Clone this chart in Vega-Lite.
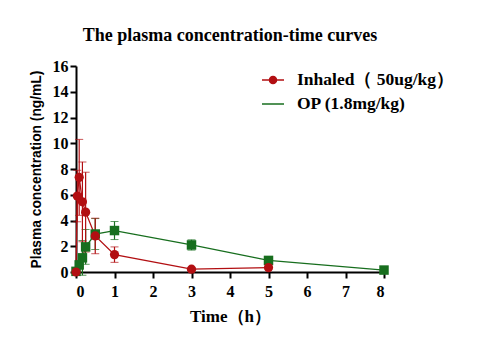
{
  "$schema": "https://vega.github.io/schema/vega-lite/v6.json",
  "width": 308,
  "height": 206,
  "autosize": {"type": "none"},
  "padding": {"left": 76, "top": 66, "right": 95, "bottom": 82},
  "background": "white",
  "title": {"text": "The plasma concentration-time curves", "font": "Liberation Serif", "fontSize": 18, "fontWeight": "bold", "color": "black", "anchor": "middle", "offset": 13},
  "data": {"values": [
    {"group": "OP (1.8mg/kg)", "t": 0, "c": 0.05, "sd": 0.1},
    {"group": "OP (1.8mg/kg)", "t": 0.083, "c": 0.55, "sd": 0.3},
    {"group": "OP (1.8mg/kg)", "t": 0.167, "c": 1.1, "sd": 1.35},
    {"group": "OP (1.8mg/kg)", "t": 0.25, "c": 1.95, "sd": 1.35},
    {"group": "OP (1.8mg/kg)", "t": 0.5, "c": 2.95, "sd": 1.2},
    {"group": "OP (1.8mg/kg)", "t": 1, "c": 3.22, "sd": 0.7},
    {"group": "OP (1.8mg/kg)", "t": 3, "c": 2.1, "sd": 0.4},
    {"group": "OP (1.8mg/kg)", "t": 5, "c": 0.9, "sd": 0.15},
    {"group": "OP (1.8mg/kg)", "t": 8, "c": 0.15, "sd": 0.1},
    {"group": "Inhaled（ 50ug/kg）", "t": 0, "c": 0, "sd": 0},
    {"group": "Inhaled（ 50ug/kg）", "t": 0.033, "c": 5.9, "sd": 2.0},
    {"group": "Inhaled（ 50ug/kg）", "t": 0.083, "c": 7.35, "sd": 2.95},
    {"group": "Inhaled（ 50ug/kg）", "t": 0.167, "c": 5.45, "sd": 3.1},
    {"group": "Inhaled（ 50ug/kg）", "t": 0.25, "c": 4.65, "sd": 3.1},
    {"group": "Inhaled（ 50ug/kg）", "t": 0.5, "c": 2.8, "sd": 1.38},
    {"group": "Inhaled（ 50ug/kg）", "t": 1, "c": 1.35, "sd": 0.6},
    {"group": "Inhaled（ 50ug/kg）", "t": 3, "c": 0.22, "sd": 0.1},
    {"group": "Inhaled（ 50ug/kg）", "t": 5, "c": 0.34, "sd": 0.1}
  ]},
  "encoding": {
    "x": {"field": "t", "type": "quantitative", "scale": {"domain": [0, 8], "nice": false},
      "axis": {"title": "Time（h）", "values": [0,1,2,3,4,5,6,7,8], "grid": false, "domainColor": "black", "domainWidth": 2, "tickColor": "black", "tickWidth": 2, "tickSize": 6, "labelFont": "Liberation Serif", "labelFontSize": 16, "labelFontWeight": "bold", "labelColor": "black", "labelPadding": 5, "titleFont": "Liberation Serif", "titleFontSize": 17, "titleFontWeight": "bold", "titleColor": "black", "titlePadding": 9}},
    "y": {"field": "c", "type": "quantitative", "scale": {"domain": [0, 16], "nice": false},
      "axis": {"title": "Plasma concentration (ng/mL)", "values": [0,2,4,6,8,10,12,14,16], "grid": false, "domainColor": "black", "domainWidth": 2, "tickColor": "black", "tickWidth": 2, "tickSize": 6, "labelFont": "Liberation Serif", "labelFontSize": 16, "labelFontWeight": "bold", "labelColor": "black", "labelPadding": 2, "titleFont": "Liberation Sans", "titleFontSize": 13.8, "titleFontWeight": "bold", "titleColor": "black", "titlePadding": 9}},
    "color": {"field": "group", "type": "nominal",
      "scale": {"domain": ["Inhaled（ 50ug/kg）", "OP (1.8mg/kg)"], "range": ["#B20F12", "#176E1E"]}}
  },
  "layer": [
    {"mark": {"type": "line", "strokeWidth": 1.3},
     "encoding": {"detail": {"field": "group"}, "order": {"field": "t"},
       "color": {"field": "group", "type": "nominal",
         "scale": {"domain": ["Inhaled（ 50ug/kg）", "OP (1.8mg/kg)"], "range": ["#B20F12", "#176E1E"]},
         "legend": {"orient": "none", "legendX": 185, "legendY": 2, "title": null,
           "labelFont": "Liberation Serif", "labelFontSize": 17.5, "labelFontWeight": "bold", "labelColor": "black",
           "symbolSize": 484, "symbolStrokeWidth": 1.5, "rowPadding": 3, "labelOffset": 12,
           "encode": {"symbols": {"update": {
             "shape": {"signal": "indexof(datum.label, 'Inhaled') === 0 ? 'M-1,0H1M-0.32,0A0.32,0.32 0 1 0 0.32,0A0.32,0.32 0 1 0 -0.32,0' : 'M-1,0H1'"},
             "fill": {"signal": "indexof(datum.label, 'Inhaled') === 0 ? '#B20F12' : 'transparent'"},
             "fillOpacity": {"value": 1}
           }}}}}}},
    {"mark": {"type": "errorbar", "ticks": {"size": 8, "strokeWidth": 1.2}, "rule": {"strokeWidth": 1.2}},
     "encoding": {"yError": {"field": "sd"}, "color": {"field": "group", "type": "nominal", "legend": null}, "detail": {"field": "group"}}},
    {"mark": {"type": "point", "filled": true, "opacity": 1, "size": 90, "shape": "square"},
     "transform": [{"filter": "datum.group === 'OP (1.8mg/kg)'"}],
     "encoding": {"color": {"field": "group", "type": "nominal", "legend": null}}},
    {"mark": {"type": "point", "filled": true, "opacity": 1, "size": 85, "shape": "circle"},
     "transform": [{"filter": "datum.group !== 'OP (1.8mg/kg)'"}],
     "encoding": {"color": {"field": "group", "type": "nominal", "legend": null}}}
  ],
  "config": {"view": {"stroke": null}}
}
